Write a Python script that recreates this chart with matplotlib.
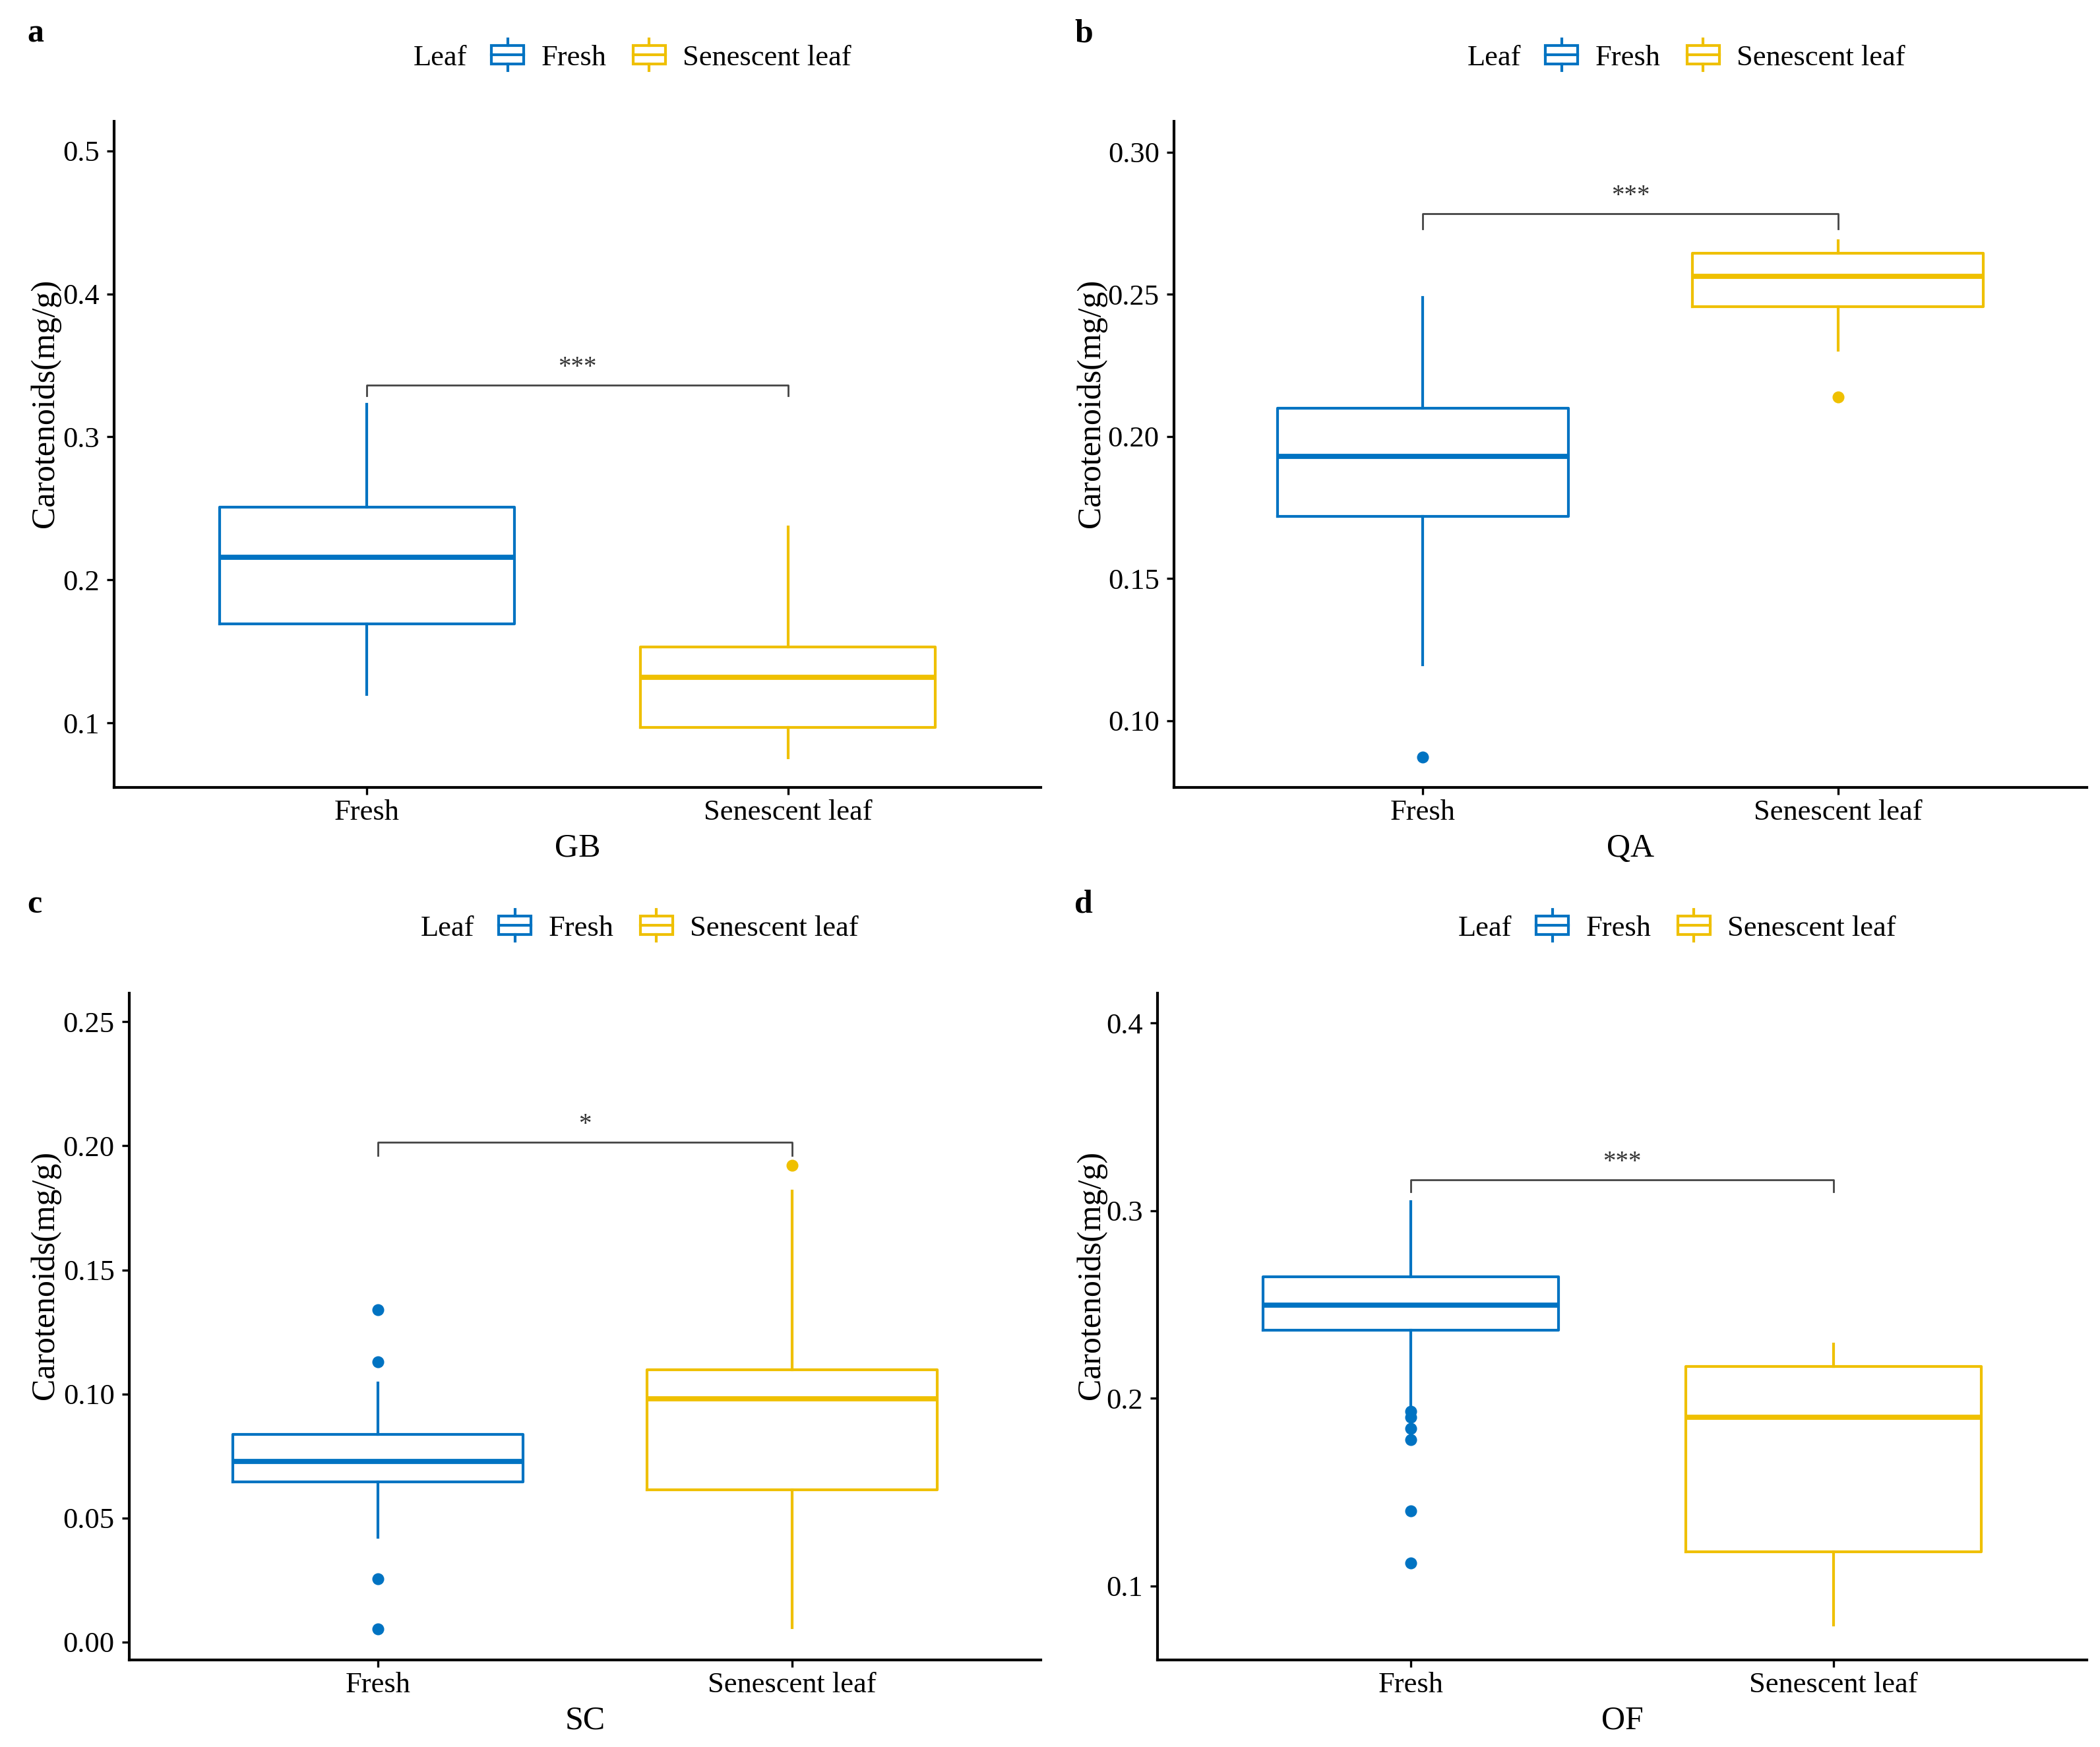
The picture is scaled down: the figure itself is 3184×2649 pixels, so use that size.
import matplotlib
matplotlib.use("Agg")
import matplotlib.pyplot as plt
import matplotlib.transforms as mtransforms
from matplotlib.patches import Patch, Rectangle
from matplotlib.lines import Line2D
from matplotlib.legend_handler import HandlerBase

plt.rcParams['font.family'] = ['Liberation Serif', 'DejaVu Serif']

# data: [whislo, q1, median, q3, whishi]
sites = ['GB', 'QA', 'SC', 'OF']
letters = ['a', 'b', 'c', 'd']
groups = ['Fresh', 'Senescent leaf']

fresh_box = [[0.120, 0.169, 0.216, 0.251, 0.323],
             [0.1196, 0.1718, 0.1929, 0.2099, 0.2488],
             [0.0423, 0.0645, 0.0729, 0.0836, 0.1044],
             [0.196, 0.2361, 0.2498, 0.2648, 0.3049]]
fresh_out = [[],
             [0.0872],
             [0.1338, 0.1128, 0.0256, 0.0052],
             [0.193, 0.190, 0.184, 0.178, 0.140, 0.112]]
sen_box = [[0.0754, 0.097, 0.132, 0.153, 0.237],
           [0.2304, 0.2455, 0.2562, 0.2644, 0.2687],
           [0.0057, 0.0614, 0.0981, 0.1098, 0.1818],
           [0.0793, 0.1182, 0.1897, 0.2169, 0.2289]]
sen_out = [[], [0.2138], [0.192], []]

signif = ['***', '***', '*', '***']
bracket_y = [0.336, 0.2783, 0.2015, 0.3165]
bracket_drop = [0.007, 0.0053, 0.0055, 0.0065]

ylims = [(0.0548, 0.5207), (0.0765, 0.3108), (-0.0072, 0.2615), (0.0605, 0.4159)]
yticks = [[0.1, 0.2, 0.3, 0.4, 0.5],
          [0.10, 0.15, 0.20, 0.25, 0.30],
          [0.00, 0.05, 0.10, 0.15, 0.20, 0.25],
          [0.1, 0.2, 0.3, 0.4]]
yfmt = ['%.1f', '%.2f', '%.2f', '%.1f']

FRESH = '#0073C2'
SEN = '#EFC000'
colors = [FRESH, SEN]

W, H = 3184, 2649
fig = plt.figure(figsize=(W / 200, H / 200), dpi=200)

# axes rectangles in pixels: left, top, right, bottom
rects = [(173, 184, 1578, 1194), (1780, 184, 3164, 1194),
         (196, 1506, 1578, 2517), (1755, 1506, 3164, 2517)]
letter_pos = [(41, 51), (1629, 51), (41, 1372), (1629, 1372)]
legend_pos = [(1018, 88), (2616, 88), (1029, 1408), (2602, 1408)]
ylabel_x = [92, 1678, 92, 1678]


class BoxHandler(HandlerBase):
    def create_artists(self, legend, orig_handle, xdescent, ydescent,
                       width, height, fontsize, trans):
        c = orig_handle.get_edgecolor()
        x0, y0 = -xdescent, -ydescent
        bh = height * 1.0
        by = y0 + (height - bh) / 2
        arts = [Rectangle((x0, by), width, bh, fill=False, ec=c, lw=1.5, transform=trans),
                Line2D([x0, x0 + width], [by + bh / 2] * 2, color=c, lw=1.5, transform=trans),
                Line2D([x0 + width / 2] * 2, [by + bh, by + bh + height * 0.35], color=c, lw=1.5, transform=trans),
                Line2D([x0 + width / 2] * 2, [by, by - height * 0.35], color=c, lw=1.5, transform=trans)]
        return arts


legends = []
for i in range(4):
    l, t, r, b = rects[i]
    ax = fig.add_axes([l / W, 1 - b / H, (r - l) / W, (b - t) / H])
    stats = []
    for j, (box, out) in enumerate([(fresh_box[i], fresh_out[i]), (sen_box[i], sen_out[i])]):
        stats.append(dict(whislo=box[0], q1=box[1], med=box[2], q3=box[3],
                          whishi=box[4], fliers=out, label=groups[j]))
    for j in range(2):
        c = colors[j]
        ax.bxp([stats[j]], positions=[j + 1], widths=0.7, showcaps=False,
               boxprops=dict(color=c, lw=1.5),
               whiskerprops=dict(color=c, lw=1.5),
               medianprops=dict(color=c, lw=2.8),
               flierprops=dict(marker='o', markerfacecolor=c, markeredgecolor=c, markersize=5.5))
    # significance bracket
    yb = bracket_y[i]
    ax.plot([1, 1, 2, 2], [yb - bracket_drop[i], yb, yb, yb - bracket_drop[i]], color='#444444', lw=1.0)
    ax.text(1.5, yb + (ylims[i][1] - ylims[i][0]) * 0.008, signif[i], ha='center', va='bottom',
            fontsize=14, color='#333333')

    ax.set_xlim(0.4, 2.6)
    ax.set_ylim(*ylims[i])
    ax.set_xticks([1, 2])
    ax.set_xticklabels(groups)
    ax.set_yticks(yticks[i])
    ax.set_yticklabels([yfmt[i] % v for v in yticks[i]])
    ax.spines['top'].set_visible(False)
    ax.spines['right'].set_visible(False)
    ax.spines['left'].set_linewidth(1.5)
    ax.spines['bottom'].set_linewidth(1.5)
    ax.tick_params(axis='both', labelsize=16, length=4, width=1.2, pad=4, colors='black')
    ax.tick_params(axis='x', pad=2.5)
    ax.set_xlabel(sites[i], fontsize=18, labelpad=4)
    ax.set_ylabel('Carotenoids(mg/g)', fontsize=18)
    tr = mtransforms.blended_transform_factory(fig.transFigure, ax.transAxes)
    ax.yaxis.set_label_coords(ylabel_x[i] / W, 0.577, transform=tr)

    fig.text(letter_pos[i][0] / W, 1 - letter_pos[i][1] / H, letters[i], fontsize=18,
             fontweight='bold', ha='left', va='center')

    handles = [Patch(edgecolor=FRESH, facecolor='none'), Patch(edgecolor=SEN, facecolor='none')]
    leg = fig.legend(handles, groups, loc='center',
                     bbox_to_anchor=(legend_pos[i][0] / W, 1 - legend_pos[i][1] / H),
                     ncol=2, frameon=False, fontsize=16, handlelength=1.1, handleheight=0.6,
                     handletextpad=0.6, columnspacing=0.9, borderpad=0,
                     handler_map={Patch: BoxHandler()})
    legends.append(leg)

fig.canvas.draw()
renderer = fig.canvas.get_renderer()
for i, leg in enumerate(legends):
    bb = leg.get_window_extent(renderer)
    fig.text((bb.x0 - 37) / W, 1 - legend_pos[i][1] / H, 'Leaf', fontsize=16,
             ha='right', va='center')

fig.savefig('out.png', dpi=200, facecolor='white')
